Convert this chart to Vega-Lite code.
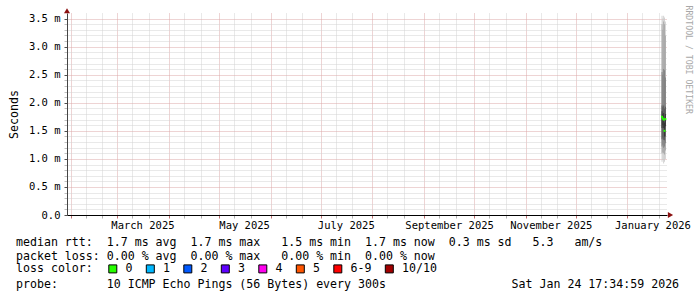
{
  "$schema": "https://vega.github.io/schema/vega-lite/v6.json",
  "width": 600,
  "height": 202,
  "autosize": {"type": "none"},
  "padding": {"left": 67, "top": 13, "right": 30, "bottom": 82},
  "background": "white",
  "config": {"view": {"stroke": null}, "font": "DejaVu Sans Mono"},
  "datasets": {
    "smoke": [
      {"t": "2026-01-21T12:00:00", "t2": "2026-01-22T00:00:00", "band": 1, "lo": 0.95, "hi": 3.55},
      {"t": "2026-01-22T00:00:00", "t2": "2026-01-22T12:00:00", "band": 1, "lo": 0.98, "hi": 3.50},
      {"t": "2026-01-22T12:00:00", "t2": "2026-01-23T00:00:00", "band": 1, "lo": 0.92, "hi": 3.55},
      {"t": "2026-01-23T00:00:00", "t2": "2026-01-23T12:00:00", "band": 1, "lo": 0.95, "hi": 3.52},
      {"t": "2026-01-23T12:00:00", "t2": "2026-01-24T00:00:00", "band": 1, "lo": 1.00, "hi": 3.45},
      {"t": "2026-01-21T12:00:00", "t2": "2026-01-22T00:00:00", "band": 2, "lo": 1.10, "hi": 3.40},
      {"t": "2026-01-22T00:00:00", "t2": "2026-01-22T12:00:00", "band": 2, "lo": 1.12, "hi": 3.30},
      {"t": "2026-01-22T12:00:00", "t2": "2026-01-23T00:00:00", "band": 2, "lo": 1.10, "hi": 3.45},
      {"t": "2026-01-23T00:00:00", "t2": "2026-01-23T12:00:00", "band": 2, "lo": 1.08, "hi": 3.40},
      {"t": "2026-01-23T12:00:00", "t2": "2026-01-24T00:00:00", "band": 2, "lo": 1.15, "hi": 3.20},
      {"t": "2026-01-21T12:00:00", "t2": "2026-01-22T00:00:00", "band": 3, "lo": 1.22, "hi": 2.55},
      {"t": "2026-01-22T00:00:00", "t2": "2026-01-22T12:00:00", "band": 3, "lo": 1.25, "hi": 2.50},
      {"t": "2026-01-22T12:00:00", "t2": "2026-01-23T00:00:00", "band": 3, "lo": 1.20, "hi": 2.60},
      {"t": "2026-01-23T00:00:00", "t2": "2026-01-23T12:00:00", "band": 3, "lo": 1.22, "hi": 2.58},
      {"t": "2026-01-23T12:00:00", "t2": "2026-01-24T00:00:00", "band": 3, "lo": 1.28, "hi": 2.45},
      {"t": "2026-01-21T12:00:00", "t2": "2026-01-22T00:00:00", "band": 4, "lo": 1.35, "hi": 1.95},
      {"t": "2026-01-22T00:00:00", "t2": "2026-01-22T12:00:00", "band": 4, "lo": 1.38, "hi": 1.92},
      {"t": "2026-01-22T12:00:00", "t2": "2026-01-23T00:00:00", "band": 4, "lo": 1.34, "hi": 1.95},
      {"t": "2026-01-23T00:00:00", "t2": "2026-01-23T12:00:00", "band": 4, "lo": 1.33, "hi": 1.90},
      {"t": "2026-01-23T12:00:00", "t2": "2026-01-24T00:00:00", "band": 4, "lo": 1.40, "hi": 1.93},
      {"t": "2026-01-21T12:00:00", "t2": "2026-01-22T00:00:00", "band": 5, "lo": 1.55, "hi": 1.85},
      {"t": "2026-01-22T00:00:00", "t2": "2026-01-22T12:00:00", "band": 5, "lo": 1.60, "hi": 1.80},
      {"t": "2026-01-22T12:00:00", "t2": "2026-01-23T00:00:00", "band": 5, "lo": 1.55, "hi": 1.82},
      {"t": "2026-01-23T00:00:00", "t2": "2026-01-23T12:00:00", "band": 5, "lo": 1.40, "hi": 1.65},
      {"t": "2026-01-23T12:00:00", "t2": "2026-01-24T00:00:00", "band": 5, "lo": 1.58, "hi": 1.80}
    ],
    "median": [
      {"t": "2026-01-21T18:00:00", "rtt": 1.75, "loss": "0"},
      {"t": "2026-01-22T06:00:00", "rtt": 1.72, "loss": "0"},
      {"t": "2026-01-22T18:00:00", "rtt": 1.70, "loss": "0"},
      {"t": "2026-01-23T06:00:00", "rtt": 1.50, "loss": "0"},
      {"t": "2026-01-23T18:00:00", "rtt": 1.71, "loss": "0"}
    ],
    "arrowUp": [{"t": "2025-01-29T17:34:59", "v": 3.64}],
    "arrowRight": [{"t": "2026-01-26T20:00:00", "v": 0}]
  },
  "title": {
    "text": [
      "median rtt:\u00a0\u00a01.7 ms avg\u00a0\u00a01.7 ms max\u00a0\u00a0\u00a01.5 ms min\u00a0\u00a01.7 ms now\u00a0\u00a00.3 ms sd\u00a0\u00a0\u00a05.3\u00a0\u00a0\u00a0am/s",
      "packet loss:\u00a00.00 % avg\u00a0\u00a00.00 % max\u00a0\u00a0\u00a00.00 % min\u00a0\u00a00.00 % now"
    ],
    "subtitle": "probe:\u00a0\u00a0\u00a0\u00a0\u00a0\u00a0\u00a010 ICMP Echo Pings (56 Bytes) every 300s\u00a0\u00a0\u00a0\u00a0\u00a0\u00a0\u00a0\u00a0\u00a0\u00a0\u00a0\u00a0\u00a0\u00a0\u00a0\u00a0\u00a0\u00a0Sat Jan 24 17:34:59 2026",
    "orient": "bottom",
    "anchor": "start",
    "frame": "group",
    "dx": -51,
    "offset": -38,
    "font": "DejaVu Sans Mono",
    "fontSize": 11.6,
    "fontWeight": "normal",
    "color": "#000000",
    "lineHeight": 14,
    "subtitleFont": "DejaVu Sans Mono",
    "subtitleFontSize": 11.6,
    "subtitleFontWeight": "normal",
    "subtitleColor": "#000000",
    "subtitleLineHeight": 14,
    "subtitlePadding": 16
  },
  "layer": [
    {
      "data": {"name": "smoke"},
      "mark": {"type": "rect"},
      "encoding": {
        "x": {
          "field": "t",
          "type": "temporal",
          "scale": {"domain": [
            {"year": 2025, "month": 1, "date": 29, "hours": 17, "minutes": 34, "seconds": 59},
            {"year": 2026, "month": 1, "date": 24, "hours": 17, "minutes": 34, "seconds": 59}
          ]},
          "axis": {
            "orient": "bottom",
            "title": null,
            "values": [
              {"year": 2025, "month": 2, "date": 1}, {"year": 2025, "month": 2, "date": 10}, {"year": 2025, "month": 2, "date": 20},
              {"year": 2025, "month": 3, "date": 1}, {"year": 2025, "month": 3, "date": 10}, {"year": 2025, "month": 3, "date": 20},
              {"year": 2025, "month": 4, "date": 1}, {"year": 2025, "month": 4, "date": 10}, {"year": 2025, "month": 4, "date": 20},
              {"year": 2025, "month": 5, "date": 1}, {"year": 2025, "month": 5, "date": 10}, {"year": 2025, "month": 5, "date": 20},
              {"year": 2025, "month": 6, "date": 1}, {"year": 2025, "month": 6, "date": 10}, {"year": 2025, "month": 6, "date": 20},
              {"year": 2025, "month": 7, "date": 1}, {"year": 2025, "month": 7, "date": 10}, {"year": 2025, "month": 7, "date": 20},
              {"year": 2025, "month": 8, "date": 1}, {"year": 2025, "month": 8, "date": 10}, {"year": 2025, "month": 8, "date": 20},
              {"year": 2025, "month": 9, "date": 1}, {"year": 2025, "month": 9, "date": 10}, {"year": 2025, "month": 9, "date": 20},
              {"year": 2025, "month": 10, "date": 1}, {"year": 2025, "month": 10, "date": 10}, {"year": 2025, "month": 10, "date": 20},
              {"year": 2025, "month": 11, "date": 1}, {"year": 2025, "month": 11, "date": 10}, {"year": 2025, "month": 11, "date": 20},
              {"year": 2025, "month": 12, "date": 1}, {"year": 2025, "month": 12, "date": 10}, {"year": 2025, "month": 12, "date": 20},
              {"year": 2026, "month": 1, "date": 1}, {"year": 2026, "month": 1, "date": 10}, {"year": 2026, "month": 1, "date": 20}
            ],
            "labels": false,
            "grid": true,
            "gridColor": {"condition": {"test": "date(datum.value) == 1", "value": "#dca8a8"}, "value": "#d2d2d2"},
            "gridDash": [1, 1],
            "gridWidth": 1,
            "ticks": true,
            "tickSize": 3,
            "tickColor": {"condition": {"test": "date(datum.value) == 1", "value": "#c07070"}, "value": "#b0b0b0"},
            "domain": true,
            "domainColor": "#000000",
            "domainWidth": 1
          }
        },
        "x2": {"field": "t2"},
        "y": {
          "field": "lo",
          "type": "quantitative",
          "scale": {"domain": [0, 3.6], "nice": false, "zero": true},
          "axis": {
            "orient": "left",
            "values": [0, 0.1, 0.2, 0.3, 0.4, 0.5, 0.6, 0.7, 0.8, 0.9, 1.0, 1.1, 1.2, 1.3, 1.4, 1.5, 1.6, 1.7, 1.8, 1.9, 2.0, 2.1, 2.2, 2.3, 2.4, 2.5, 2.6, 2.7, 2.8, 2.9, 3.0, 3.1, 3.2, 3.3, 3.4, 3.5],
            "grid": true,
            "gridColor": {"condition": {"test": "round(datum.value * 10) % 5 == 0", "value": "#dca8a8"}, "value": "#d2d2d2"},
            "gridDash": [1, 1],
            "gridWidth": 1,
            "ticks": true,
            "tickSize": 3,
            "tickColor": {"condition": {"test": "round(datum.value * 10) % 5 == 0", "value": "#505050"}, "value": "#c0c0c0"},
            "domain": true,
            "domainColor": "#444444",
            "labelExpr": "round(datum.value * 10) % 5 != 0 ? '' : (datum.value == 0 ? '0.0\u00a0' : format(datum.value, '.1f') + ' m')",
            "labelFont": "DejaVu Sans Mono",
            "labelFontSize": 10.5,
            "labelColor": "#000000",
            "labelPadding": 4,
            "labelOverlap": false,
            "labelFlush": false,
            "title": "Seconds",
            "titleFont": "DejaVu Sans Mono",
            "titleFontSize": 11.6,
            "titleFontWeight": "normal",
            "titleColor": "#000000",
            "titleAngle": -90,
            "titleX": -50,
            "titleY": 101,
            "titleAlign": "center",
            "titleBaseline": "alphabetic"
          }
        },
        "y2": {"field": "hi"},
        "fill": {
          "field": "band",
          "type": "ordinal",
          "scale": {"domain": [1, 2, 3, 4, 5], "range": ["#cacaca", "#a4a4a4", "#7e7e7e", "#585858", "#323232"]},
          "legend": null
        }
      }
    },
    {
      "data": {"name": "median"},
      "mark": {"type": "square", "size": 4, "opacity": 1, "filled": true},
      "encoding": {
        "x": {
          "field": "t",
          "type": "temporal",
          "axis": {
            "orient": "bottom",
            "title": null,
            "values": [
              {"year": 2025, "month": 3, "date": 16},
              {"year": 2025, "month": 5, "date": 16},
              {"year": 2025, "month": 7, "date": 16},
              {"year": 2025, "month": 9, "date": 16},
              {"year": 2025, "month": 11, "date": 16},
              {"year": 2026, "month": 1, "date": 16}
            ],
            "format": "%B %Y",
            "grid": false,
            "ticks": false,
            "tickSize": 0,
            "domain": false,
            "labelFont": "DejaVu Sans Mono",
            "labelFontSize": 10.5,
            "labelColor": "#000000",
            "labelBaseline": "alphabetic",
            "labelAlign": "center",
            "labelPadding": 13,
            "labelFlush": false,
            "labelOverlap": false
          }
        },
        "y": {
          "field": "rtt",
          "type": "quantitative",
          "axis": {
            "orient": "right",
            "labels": false,
            "ticks": false,
            "domain": false,
            "grid": false,
            "title": "RRDTOOL / TOBI OETIKER",
            "titleFont": "DejaVu Sans Mono",
            "titleFontSize": 8.2,
            "titleFontWeight": "normal",
            "titleColor": "#a8a8a8",
            "titleAngle": 90,
            "titleX": 18,
            "titleY": -8,
            "titleAlign": "left",
            "titleBaseline": "alphabetic"
          }
        },
        "color": {
          "field": "loss",
          "type": "nominal",
          "scale": {
            "domain": ["0", "1", "2", "3", "4", "5", "6-9", "10/10"],
            "range": ["#26ff00", "#00b8ff", "#0059ff", "#5e00ff", "#ff00ee", "#ff5500", "#ff0000", "#a10000"]
          },
          "legend": {
            "title": "loss color:",
            "orient": "none",
            "legendX": -51,
            "legendY": 250,
            "direction": "horizontal",
            "columns": 8,
            "symbolType": "square",
            "symbolSize": 64,
            "symbolStrokeColor": "#000000",
            "symbolStrokeWidth": 1,
            "symbolOpacity": 1,
            "labelFont": "DejaVu Sans Mono",
            "labelFontSize": 11.6,
            "labelColor": "#000000",
            "labelOffset": 7,
            "columnPadding": 10.5,
            "titleOrient": "left",
            "titleFont": "DejaVu Sans Mono",
            "titleFontSize": 11.6,
            "titleFontWeight": "normal",
            "titleColor": "#000000",
            "titlePadding": 14,
            "padding": 0
          }
        }
      }
    },
    {
      "data": {"name": "arrowUp"},
      "mark": {"type": "point", "shape": "triangle-up", "filled": true, "size": 36, "color": "#8b1010", "opacity": 1},
      "encoding": {
        "x": {"field": "t", "type": "temporal", "axis": null},
        "y": {"field": "v", "type": "quantitative", "axis": null}
      }
    },
    {
      "data": {"name": "arrowRight"},
      "mark": {"type": "point", "shape": "triangle-right", "filled": true, "size": 36, "color": "#8b1010", "opacity": 1},
      "encoding": {
        "x": {"field": "t", "type": "temporal", "axis": null},
        "y": {"field": "v", "type": "quantitative", "axis": null}
      }
    }
  ],
  "resolve": {"axis": {"x": "independent", "y": "independent"}}
}
